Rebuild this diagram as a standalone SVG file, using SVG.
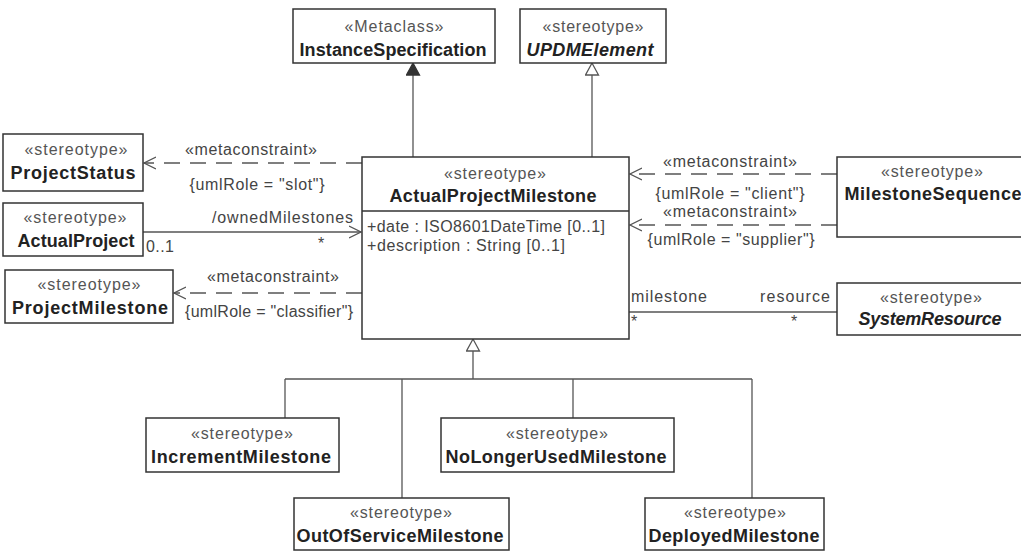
<svg xmlns="http://www.w3.org/2000/svg" width="1021" height="552" viewBox="0 0 1021 552">
<defs>
<style>
.box{fill:#fff;stroke:#333;stroke-width:1.5}
.ln{fill:none;stroke:#555;stroke-width:1.3}
.dash{fill:none;stroke:#555;stroke-width:1.3;stroke-dasharray:16 10}
.st{font-family:"Liberation Sans",Arial,sans-serif;font-size:16px;fill:#555;text-anchor:middle}
.nm{font-family:"Liberation Sans",Arial,sans-serif;font-size:18px;font-weight:bold;fill:#222;text-anchor:middle}
.it{font-style:italic}
.lb{font-family:"Liberation Sans",Arial,sans-serif;font-size:16px;fill:#444}
.mid{text-anchor:middle}
.end{text-anchor:end}
</style>
<marker id="open" markerWidth="14" markerHeight="14" refX="12" refY="7" orient="auto" markerUnits="userSpaceOnUse">
<path d="M0,1 L12,7 L0,13" fill="none" stroke="#555" stroke-width="1.3"/>
</marker>
<marker id="hollow" markerWidth="16" markerHeight="16" refX="13" refY="7.5" orient="auto" markerUnits="userSpaceOnUse">
<path d="M1,1 L13,7.5 L1,14 Z" fill="#fff" stroke="#555" stroke-width="1.3"/>
</marker>
<marker id="filled" markerWidth="16" markerHeight="16" refX="13" refY="7.5" orient="auto" markerUnits="userSpaceOnUse">
<path d="M1,1 L13,7.5 L1,14 Z" fill="#333" stroke="#333" stroke-width="1.3"/>
</marker>
</defs>
<rect width="1021" height="552" fill="#fff"/>

<g id="connectors">
<line class="ln" x1="413" y1="157" x2="413" y2="63" marker-end="url(#filled)"/>
<line class="ln" x1="592" y1="157" x2="592" y2="63" marker-end="url(#hollow)"/>
<line class="dash" x1="362" y1="163" x2="144" y2="163" marker-end="url(#open)"/>
<text class="lb mid" x="251" y="155" textLength="132">«metaconstraint»</text>
<text class="lb mid" x="257" y="190" textLength="135">{umlRole = "slot"}</text>
<line class="ln" x1="143" y1="232" x2="361" y2="232" marker-end="url(#open)"/>
<text class="lb end" x="353" y="223" textLength="141">/ownedMilestones</text>
<text class="lb" x="146" y="252" textLength="28">0..1</text>
<text class="lb mid" x="321" y="249">*</text>
<line class="dash" x1="362" y1="293" x2="174" y2="293" marker-end="url(#open)"/>
<text class="lb mid" x="273" y="282" textLength="132">«metaconstraint»</text>
<text class="lb" x="185" y="317" textLength="168">{umlRole = "classifier"}</text>
<line class="dash" x1="837" y1="174" x2="630" y2="174" marker-end="url(#open)"/>
<text class="lb mid" x="730" y="167" textLength="134">«metaconstraint»</text>
<text class="lb mid" x="730" y="199" textLength="149">{umlRole = "client"}</text>
<line class="dash" x1="837" y1="225" x2="630" y2="225" marker-end="url(#open)"/>
<text class="lb mid" x="730" y="217" textLength="134">«metaconstraint»</text>
<text class="lb mid" x="731" y="245" textLength="167">{umlRole = "supplier"}</text>
<line class="ln" x1="629" y1="312" x2="837" y2="312"/>
<text class="lb" x="631" y="302" textLength="76">milestone</text>
<text class="lb end" x="830" y="302" textLength="70">resource</text>
<text class="lb" x="631" y="327">*</text>
<text class="lb" x="791" y="327">*</text>
<line class="ln" x1="473" y1="379" x2="473" y2="339" marker-end="url(#hollow)"/>
<line class="ln" x1="285" y1="379" x2="752" y2="379"/>
<line class="ln" x1="285" y1="379" x2="285" y2="418"/>
<line class="ln" x1="402" y1="379" x2="402" y2="498"/>
<line class="ln" x1="573" y1="379" x2="573" y2="418"/>
<line class="ln" x1="752" y1="379" x2="752" y2="498"/>
</g>

<g id="InstanceSpecification">
<rect class="box" x="293" y="9" width="202" height="54"/>
<text class="st" x="394" y="32" textLength="99">«Metaclass»</text>
<text class="nm" x="393" y="56" textLength="187">InstanceSpecification</text>
</g>
<g id="UPDMElement">
<rect class="box" x="520" y="9" width="146" height="54"/>
<text class="st" x="593" y="32" textLength="101">«stereotype»</text>
<text class="nm it" x="590" y="56" textLength="127">UPDMElement</text>
</g>
<g id="ProjectStatus">
<rect class="box" x="3" y="134" width="140" height="57"/>
<text class="st" x="76" y="155" textLength="103">«stereotype»</text>
<text class="nm" x="73" y="179" textLength="125">ProjectStatus</text>
</g>
<g id="ActualProject">
<rect class="box" x="3" y="203" width="140" height="53"/>
<text class="st" x="75" y="223" textLength="103">«stereotype»</text>
<text class="nm" x="76" y="247" textLength="117">ActualProject</text>
</g>
<g id="ProjectMilestone">
<rect class="box" x="5" y="270" width="168" height="53"/>
<text class="st" x="89" y="290" textLength="103">«stereotype»</text>
<text class="nm" x="90" y="314" textLength="156">ProjectMilestone</text>
</g>
<g id="ActualProjectMilestone">
<rect class="box" x="362" y="157" width="267" height="182"/>
<line x1="362" y1="211" x2="629" y2="211" stroke="#333" stroke-width="1.5"/>
<text class="st" x="495" y="179" textLength="102">«stereotype»</text>
<text class="nm" x="493" y="202" textLength="207">ActualProjectMilestone</text>
<text class="lb" x="367" y="232" textLength="238" fill="#333">+date : ISO8601DateTime [0..1]</text>
<text class="lb" x="367" y="251" textLength="198" fill="#333">+description : String [0..1]</text>
</g>
<g id="MilestoneSequence">
<rect class="box" x="837" y="157" width="192" height="80"/>
<text class="st" x="932" y="177" textLength="102">«stereotype»</text>
<text class="nm" x="933" y="200" textLength="177">MilestoneSequence</text>
</g>
<g id="SystemResource">
<rect class="box" x="837" y="283" width="192" height="52"/>
<text class="st" x="931" y="303" textLength="102">«stereotype»</text>
<text class="nm it" x="930" y="325" textLength="143">SystemResource</text>
</g>
<g id="IncrementMilestone">
<rect class="box" x="146" y="418" width="193" height="54"/>
<text class="st" x="242" y="439" textLength="102">«stereotype»</text>
<text class="nm" x="241" y="463" textLength="180">IncrementMilestone</text>
</g>
<g id="NoLongerUsedMilestone">
<rect class="box" x="441" y="418" width="233" height="54"/>
<text class="st" x="557" y="439" textLength="102">«stereotype»</text>
<text class="nm" x="556" y="463" textLength="221">NoLongerUsedMilestone</text>
</g>
<g id="OutOfServiceMilestone">
<rect class="box" x="294" y="498" width="215" height="52"/>
<text class="st" x="401" y="518" textLength="102">«stereotype»</text>
<text class="nm" x="400" y="542" textLength="207">OutOfServiceMilestone</text>
</g>
<g id="DeployedMilestone">
<rect class="box" x="645" y="498" width="179" height="52"/>
<text class="st" x="735" y="518" textLength="102">«stereotype»</text>
<text class="nm" x="734" y="542" textLength="171">DeployedMilestone</text>
</g>
</svg>
